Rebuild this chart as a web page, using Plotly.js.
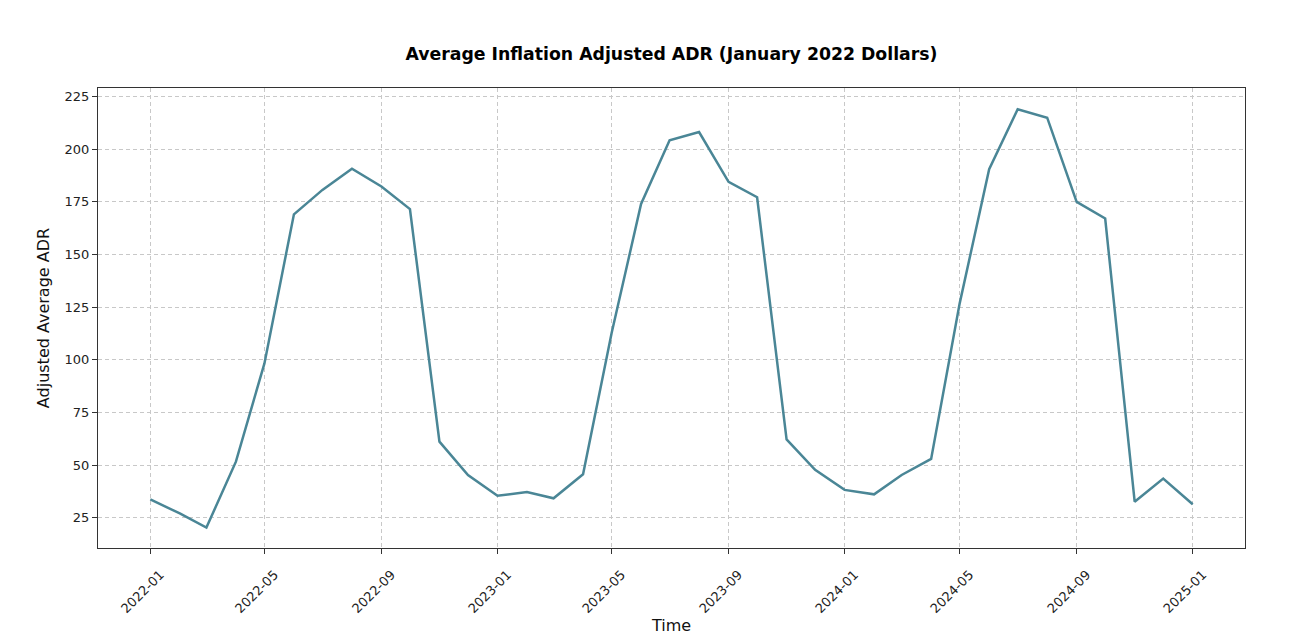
<!DOCTYPE html>
<html>
<head>
<meta charset="utf-8">
<script src="https://cdn.plot.ly/plotly-3.0.1.min.js"></script>
<style>html,body{margin:0;padding:0;background:#fff;}#chart{width:1306px;height:640px;}</style>
</head>
<body>
<div id="chart"></div>
<script>
const months = [
  "2022-01-01","2022-02-01","2022-03-01","2022-04-01","2022-05-01","2022-06-01",
  "2022-07-01","2022-08-01","2022-09-01","2022-10-01","2022-11-01","2022-12-01",
  "2023-01-01","2023-02-01","2023-03-01","2023-04-01","2023-05-01","2023-06-01",
  "2023-07-01","2023-08-01","2023-09-01","2023-10-01","2023-11-01","2023-12-01",
  "2024-01-01","2024-02-01","2024-03-01","2024-04-01","2024-05-01","2024-06-01",
  "2024-07-01","2024-08-01","2024-09-01","2024-10-01","2024-11-01","2024-12-01",
  "2025-01-01"
];
const adjustedADR = [
  33.7, 27.0, 20.3, 51.6, 98.3, 169.1,
  180.7, 190.8, 182.3, 171.6, 61.1, 45.3,
  35.4, 37.2, 34.2, 45.6, 112.6, 174.0,
  204.3, 208.2, 184.5, 177.2, 62.2, 47.7,
  38.2, 36.1, 45.3, 52.9, 126.8, 190.5,
  219.0, 215.0, 175.0, 167.1, 32.6, 43.6,
  31.4
];
const tickDates = ["2022-01-01","2022-05-01","2022-09-01","2023-01-01","2023-05-01","2023-09-01","2024-01-01","2024-05-01","2024-09-01","2025-01-01"];
const tickLabels = ["2022-01","2022-05","2022-09","2023-01","2023-05","2023-09","2024-01","2024-05","2024-09","2025-01"];
const yTicks = [25, 50, 75, 100, 125, 150, 175, 200, 225];

const font = "DejaVu Sans, sans-serif";
const trace = {
  x: months, y: adjustedADR, type: "scatter", mode: "lines",
  line: {color: "#4a8696", width: 2.5}, hoverinfo: "x+y"
};
const layout = {
  width: 1306, height: 640,
  margin: {l: 98, r: 61, t: 88, b: 92},
  paper_bgcolor: "#fff", plot_bgcolor: "#fff",
  showlegend: false,
  title: {text: "<b>Average Inflation Adjusted ADR (January 2022 Dollars)</b>", font: {family: font, size: 17.3, color: "#000"}, xref: "paper", x: 0.5, xanchor: "center", y: 0.915, yanchor: "middle"},
  xaxis: {
    type: "date", range: ["2021-11-07", "2025-02-25"],
    tickmode: "array", tickvals: tickDates, ticktext: tickLabels, tickangle: -45,
    tickfont: {family: font, size: 13, color: "#222"},
    ticklabelshift: 10, ticklabelstandoff: 8,
    ticks: "outside", ticklen: 5, tickcolor: "#333", tickwidth: 1,
    showgrid: true, gridcolor: "#c8c8c8", griddash: "4px,3px", gridwidth: 1,
    showline: true, linecolor: "#333", linewidth: 1, mirror: true, zeroline: false,
    title: {text: "Time", font: {family: font, size: 16, color: "#111"}, standoff: 4}
  },
  yaxis: {
    range: [10.6, 229.1],
    tickmode: "array", tickvals: yTicks,
    tickfont: {family: font, size: 13, color: "#222"},
    ticks: "outside", ticklen: 5, tickcolor: "#333", tickwidth: 1,
    showgrid: true, gridcolor: "#c8c8c8", griddash: "4px,3px", gridwidth: 1,
    showline: true, linecolor: "#333", linewidth: 1, mirror: true, zeroline: false,
    title: {text: "Adjusted Average ADR", font: {family: font, size: 16, color: "#111"}, standoff: 10}
  }
};
Plotly.newPlot("chart", [trace], layout, {displayModeBar: false, staticPlot: true});
</script>
</body>
</html>
